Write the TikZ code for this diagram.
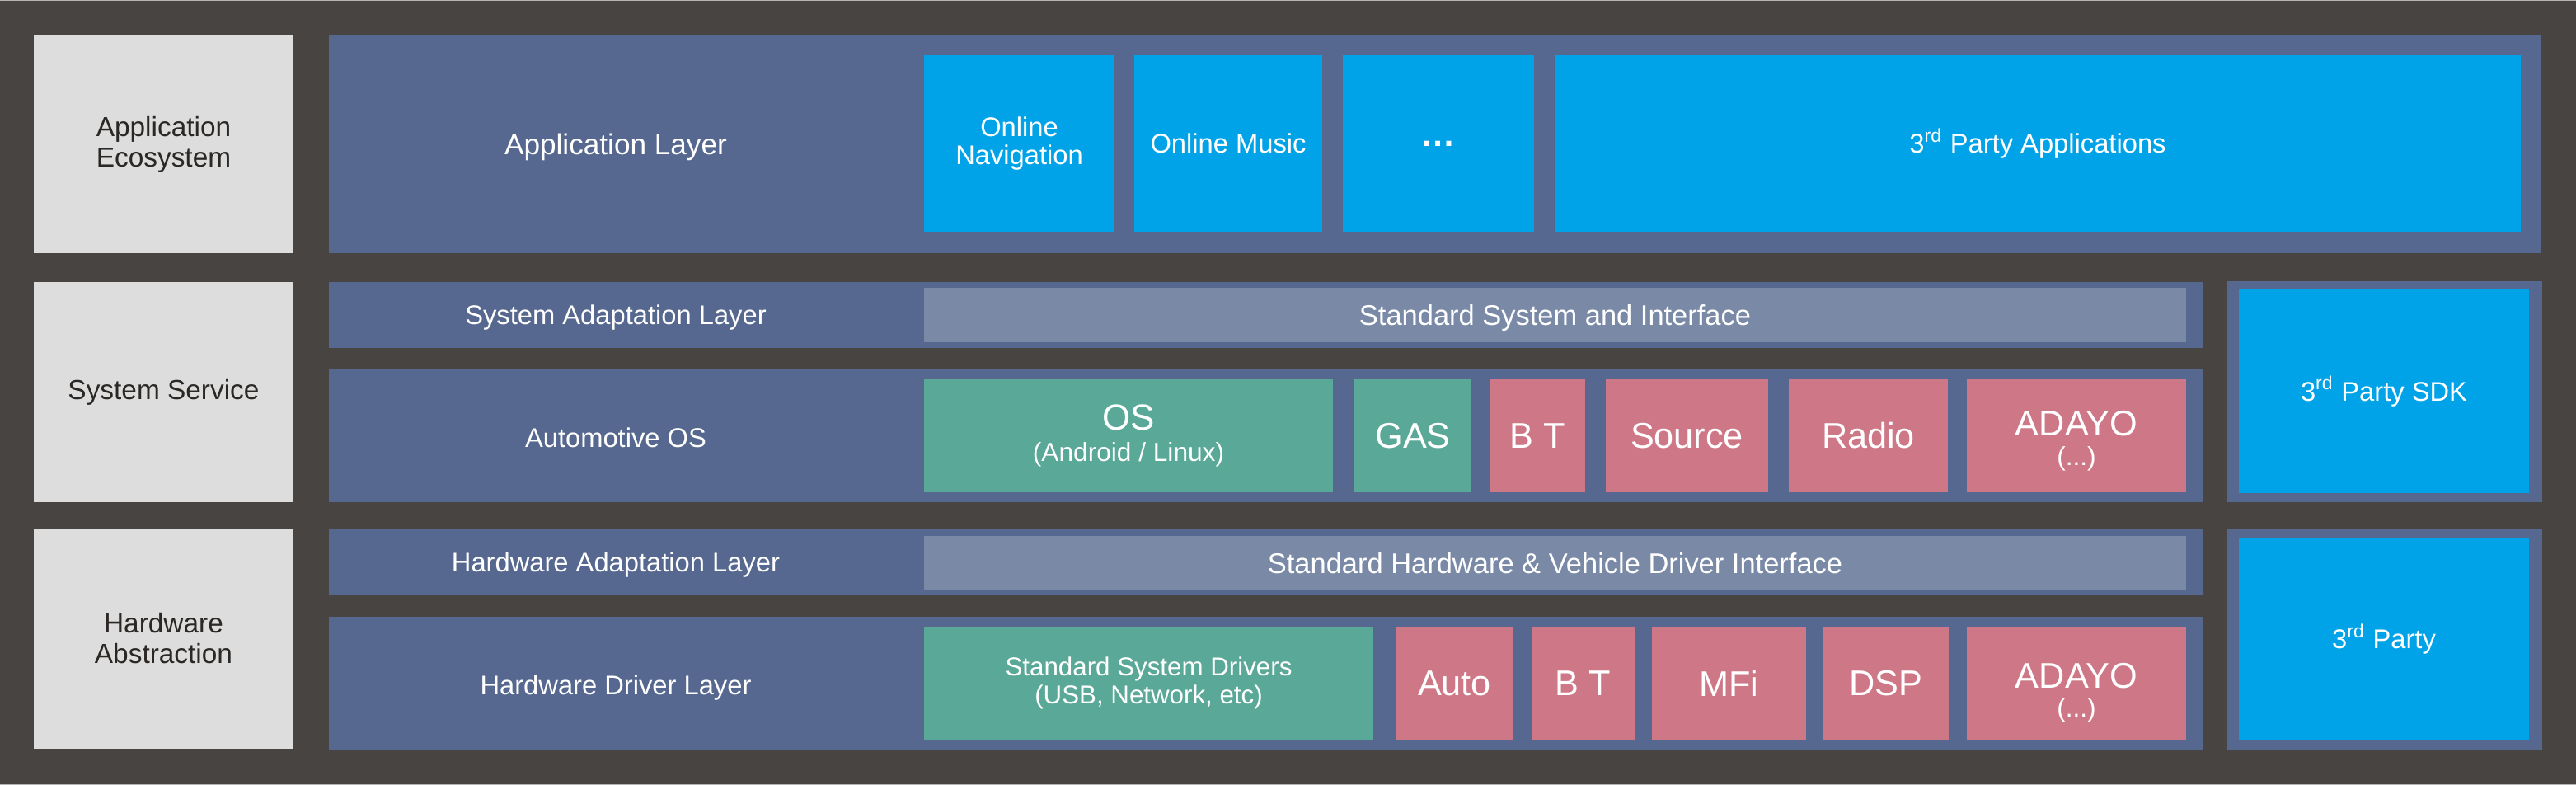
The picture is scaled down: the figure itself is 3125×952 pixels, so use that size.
\documentclass[tikz,border=0pt]{standalone}
\usepackage{fontspec}
\setmainfont{Liberation Sans}
\usepackage{tikz}

\definecolor{bgdark}{HTML}{474442}
\definecolor{edgegray}{HTML}{B4B4B4}
\definecolor{panelgray}{HTML}{DCDDDC}
\definecolor{paneltext}{HTML}{2B2725}
\definecolor{layerblue}{HTML}{56688F}
\definecolor{ifaceblue}{HTML}{7A8AA6}
\definecolor{appcyan}{HTML}{00A3E8}
\definecolor{coregreen}{HTML}{5AA897}
\definecolor{vendorpink}{HTML}{CE7887}

\tikzset{
  cell/.style 2 args={anchor=north west, minimum width=(#1)*0.01cm, minimum height=(#2)*0.01cm},
  box/.style={inner sep=0pt, outer sep=0pt, align=center, text=white},
  panel/.style={box, fill=panelgray, text=paneltext, font=\fontsize{9.5}{10.5}\selectfont},
  layer/.style={box, fill=layerblue},
  iface/.style={box, fill=ifaceblue, text depth=0pt, font=\fontsize{9.8}{11}\selectfont},
  app/.style={box, fill=appcyan, font=\fontsize{9.3}{10}\selectfont},
  core/.style={box, fill=coregreen, font=\fontsize{9}{10.7}\selectfont},
  vendor/.style={box, fill=vendorpink, font=\fontsize{12.3}{13}\selectfont},
  lbl/.style={text=white, inner sep=0pt, text depth=0pt, font=\fontsize{9.3}{11}\selectfont},
}
\newcommand{\subline}[1]{{\fontsize{9}{10}\selectfont #1}}

\begin{document}
\begin{tikzpicture}[x=0.01cm, y=-0.01cm]
  \fill[bgdark] (0,0) rectangle (3125,952);
  \fill[edgegray] (0,0) rectangle (3125,1);
  \fill[edgegray] (0,951) rectangle (3125,952);

  % left column
  \node[panel, cell={315}{264}] (eco) at (41,43) {Application\\Ecosystem};
  \node[panel, cell={315}{267}] (sys) at (41,342) {System Service};
  \node[panel, cell={315}{267}] (hwa) at (41,641) {Hardware\\Abstraction};

  % application layer
  \node[layer, cell={2683}{264}] (applayer) at (399,43) {};
  \node[lbl, font=\fontsize{10}{11}\selectfont] (applbl) at (747,175) {Application Layer};
  \node[app, cell={231}{214}, font=\fontsize{9.3}{9.9}\selectfont] (nav) at (1121,67) {Online\\Navigation};
  \node[app, cell={228}{214}] (music) at (1376,67) {Online Music};
  \node[app, cell={232}{214}, font=\fontsize{12}{12}\bfseries] (more) at (1629,67) {…};
  \node[app, cell={1172}{214}] (thirdapps) at (1886,67) {3\textsuperscript{rd} Party Applications};

  % system adaptation layer
  \node[layer, cell={2274}{80}] (syslayer) at (399,342) {};
  \node[lbl] (syslbl) at (747,382) {System Adaptation Layer};
  \node[iface, cell={1531}{66}] (sysif) at (1121,349) {Standard System and Interface};

  % automotive os
  \node[layer, cell={2274}{161}] (oslayer) at (399,448) {};
  \node[lbl] (oslbl) at (747,531) {Automotive OS};
  \node[core, cell={496}{137}] (os) at (1121,460) {{\fontsize{12.5}{13}\selectfont OS}\\(Android / Linux)};
  \node[core, cell={142}{137}, font=\fontsize{12.3}{13}\selectfont] (gas) at (1643,460) {GAS};
  \foreach \n/\x/\w/\t in {bt/1808/115/B T, src/1948/197/Source, radio/2170/193/Radio}
    \node[vendor, cell={\w}{137}] (os-\n) at (\x,460) {\t};
  \node[vendor, cell={266}{137}] (os-adayo) at (2386,460) {};
  \node[text=white, align=center, font=\fontsize{12.3}{13}\selectfont, yshift=-1.7pt] (os-adayo-txt)
    at (os-adayo.center) {ADAYO\\[-2.8pt]\subline{(...)}};

  % sdk
  \node[layer, cell={382}{268}] (sdkframe) at (2702,341) {};
  \node[app, cell={352}{247}] (sdk) at (2716,351) {3\textsuperscript{rd} Party SDK};

  % hardware adaptation layer
  \node[layer, cell={2274}{81}] (hwlayer) at (399,641) {};
  \node[lbl] (hwlbl) at (747,682) {Hardware Adaptation Layer};
  \node[iface, cell={1531}{66}] (hwif) at (1121,650) {Standard Hardware \& Vehicle Driver Interface};

  % hardware driver layer
  \node[layer, cell={2274}{161}] (drvlayer) at (399,748) {};
  \node[lbl] (drvlbl) at (747,831) {Hardware Driver Layer};
  \node[core, cell={545}{137}, font=\fontsize{8.9}{9.6}\selectfont] (drivers) at (1121,760) {Standard System Drivers\\(USB, Network, etc)};
  \foreach \n/\x/\w/\t in {auto/1694/141/Auto, bt/1858/125/B T, mfi/2004/187/MFi, dsp/2212/152/DSP}
    \node[vendor, cell={\w}{137}] (drv-\n) at (\x,760) {\t};
  \node[vendor, cell={266}{137}] (drv-adayo) at (2386,760) {};
  \node[text=white, align=center, font=\fontsize{12.3}{13}\selectfont, yshift=-3.3pt] (drv-adayo-txt)
    at (drv-adayo.center) {ADAYO\\[-2.8pt]\subline{(...)}};

  % 3rd party
  \node[layer, cell={382}{268}] (partyframe) at (2702,641) {};
  \node[app, cell={352}{246}] (party) at (2716,652) {3\textsuperscript{rd} Party};
\end{tikzpicture}
\end{document}
